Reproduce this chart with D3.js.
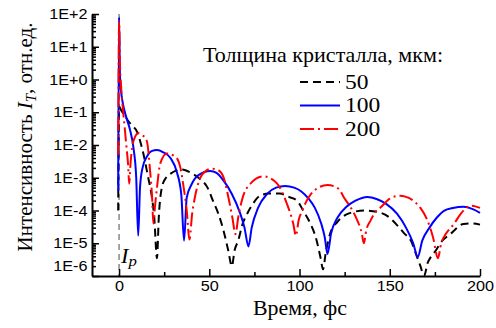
<!DOCTYPE html>
<html>
<head>
<meta charset="utf-8">
<script src="https://cdnjs.cloudflare.com/ajax/libs/d3/7.8.5/d3.min.js"></script>
<style>
body { margin: 0; background: #fff; }
</style>
</head>
<body>
<div id="gbody"></div>
<script>
var ancho = 496;
var alto = 328;
var fuenteSerif = "Liberation Serif";
var fuenteSans = "Liberation Sans";
var estirar = 1.12; // la figura original esta algo ensanchada

// datos: [tiempo fs, intensidad]
var curva50 = [[-0.5, 1e-4], [0, 0.15], [1, 0.12], [3, 0.08], [5, 0.055], [7, 0.04], [10, 0.025],
    [11.7, 0.013], [14, 4e-3], [16, 1.1e-3], [18, 3e-4], [19.5, 6e-5], [21, 3.5e-6], [22, 6e-5],
    [23.7, 5e-4], [26, 1e-3], [28.3, 1.3e-3], [31.5, 1.65e-3], [35, 1.8e-3], [40, 1.4e-3], [45, 9e-4],
    [49, 5e-4], [52, 2e-4], [55, 8e-5], [58, 2.3e-5], [60.5, 6e-6], [62.5, 2e-6], [64, 6e-6], [66, 1.2e-5],
    [68.5, 4e-5], [71, 8e-5], [74.5, 1.7e-4], [78, 2.8e-4], [83, 3.3e-4], [89, 3.3e-4], [94, 2.6e-4],
    [98.6, 2e-4], [102, 1e-4], [106, 4e-5], [109, 1.5e-5], [111.7, 3.5e-6], [113, 1.6e-6], [114.5, 5e-6],
    [117, 2e-5], [121, 4.5e-5], [127, 8e-5], [136, 1e-4], [145, 8.5e-5], [150, 6e-5], [154.4, 3.4e-5],
    [158, 2e-5], [161.7, 1.2e-5], [165, 4e-6], [167, 2e-6], [169, 1e-6], [171, 2.5e-6], [173, 4e-6],
    [175.5, 6e-6], [178, 1e-5], [184, 2e-5], [191, 3.9e-5], [196, 4e-5], [200, 3.7e-5]];

var curva100 = [[-0.5, 4e-4], [0, 80], [0.5, 1.2], [1, 0.5], [2, 0.2], [4, 0.07], [6, 0.03], [8, 0.008],
    [9.5, 0.001], [10.6, 1.7e-5], [11.6, 5e-4], [13, 2e-3], [15.5, 4.5e-3], [18, 6.5e-3], [21, 7e-3],
    [24.5, 6e-3], [28.5, 4e-3], [32, 1.5e-3], [34.5, 3e-4], [36, 1.2e-5], [37.5, 2.5e-4], [40, 6e-4],
    [44, 1.2e-3], [50.5, 1.6e-3], [54, 1.4e-3], [58, 8e-4], [62.5, 3.2e-4], [67, 8.5e-5], [69.5, 3e-5],
    [71.7, 8e-6], [73.5, 3e-5], [77, 1.2e-4], [82, 3.2e-4], [87, 5e-4], [92, 5.6e-4], [97, 5e-4],
    [101, 3.8e-4], [105, 2.3e-4], [108.5, 1.2e-4], [112, 4e-5], [114, 1.5e-5], [115.5, 4.7e-6],
    [117.5, 2e-5], [121, 6e-5], [126, 1.3e-4], [131, 2e-4], [137.6, 2.6e-4], [143, 2.2e-4], [148, 1.6e-4],
    [154, 8e-5], [159, 3e-5], [163, 1e-5], [165.5, 3.8e-6], [168, 1.2e-5], [172, 3e-5], [176, 6e-5],
    [180, 9.8e-5], [185, 1.2e-4], [191, 1.3e-4], [196, 1.1e-4], [200, 8.5e-5]];

var curva200 = [[-0.5, 5e-3], [0, 60], [0.5, 3], [1, 0.8], [2, 0.15], [3, 0.04], [4, 0.01], [5, 2.5e-3],
    [5.6, 6.6e-4], [6.3, 2.5e-3], [7.2, 8e-3], [8.5, 0.016], [10.6, 0.023], [13, 0.02], [15.4, 0.013],
    [17.2, 1.6e-3], [18.3, 2.5e-4], [19, 4e-5], [20, 1.5e-4], [21, 5e-4], [22.8, 2.7e-3], [26.5, 5.5e-3],
    [30, 4.8e-3], [32, 4e-3], [34, 2e-3], [35.8, 5e-4], [37.5, 1e-4], [39, 1.3e-5], [40.5, 8e-5],
    [42, 2.5e-4], [45, 1e-3], [48, 1.6e-3], [51.5, 1.9e-3], [55, 1.7e-3], [58, 1e-3], [60.6, 2.5e-4],
    [62.8, 6e-5], [64.5, 1.9e-5], [66, 6e-5], [68, 2e-4], [72.8, 6.6e-4], [80, 1.1e-3], [87.6, 6.6e-4],
    [93, 1.6e-4], [96.5, 4e-5], [98, 1.7e-5], [99.5, 5e-5], [101.5, 1e-4], [108, 4e-4], [115.5, 6e-4],
    [121.7, 4.6e-4], [124.6, 2.5e-4], [128.5, 1.2e-4], [132, 5e-5], [134.5, 2e-5], [135.6, 1e-5],
    [137, 2.5e-5], [139.4, 5e-5], [142, 9e-5], [145, 1.25e-4], [150, 2.3e-4], [155, 2.8e-4], [159, 2.6e-4],
    [163, 2e-4], [167, 1.2e-4], [171, 4.8e-5], [174, 1.5e-5], [176.7, 3.5e-6], [178.5, 1e-5], [181, 1.9e-5],
    [185.6, 3.9e-5], [189.4, 8e-5], [195, 1.4e-4], [200, 1.2e-4]];

var grosores = ["50", "100", "200"];
var ticksX = [0, 50, 100, 150, 200];
var ticksXmenor = [25, 75, 125, 175];
var exponentesY = [2, 1, 0, -1, -2, -3, -4, -5, -6];

var series = [
    {datos: curva50, color: "#000", dash: "8,5"},
    {datos: curva100, color: "#0000ff", dash: null},
    {datos: curva200, color: "#ff0000", dash: "14,4,2,4"}
];

var svg = d3.select("#gbody").append("svg")
    .attr("width", ancho)
    .attr("height", alto);

var x = d3.scaleLinear().domain([-15, 200]).range([92, 480]);
var y = d3.scaleLog().domain([1e-6, 1e2]).range([276, 14]);

// texto horizontal ensanchado como en la figura
function textoAncho(px, py, tam){
    return svg.append("g")
        .attr("transform", "translate(" + px + "," + py + ") scale(" + estirar + ",1)")
        .append("text")
        .style("font-family", fuenteSerif)
        .style("font-size", tam + "px");
}

// linea vertical del pulso
svg.append("line")
    .attr("x1", x(0)).attr("x2", x(0))
    .attr("y1", y(1e2)).attr("y2", y(1e-6))
    .attr("stroke", "#888")
    .attr("stroke-width", 1.5)
    .attr("stroke-dasharray", "6,4");

var linea = d3.line()
    .x(function(d){ return x(d[0]); })
    .y(function(d){ return y(d[1]); })
    .curve(d3.curveMonotoneX);

for(var i = 0; i < series.length; i++){
    svg.append("path")
        .attr("d", linea(series[i].datos))
        .attr("fill", "none")
        .attr("stroke", series[i].color)
        .attr("stroke-width", 2)
        .attr("stroke-dasharray", series[i].dash);
}

/*******************Ejes*************************/
var formatoY = function(d){
    var e = Math.round(Math.log10(d));
    return "1E" + (e >= 0 ? "+" : "-") + Math.abs(e);
};

var ejeY = svg.append("g")
    .attr("transform", "translate(" + x(-15) + ",0)")
    .call(d3.axisLeft(y)
        .tickValues(exponentesY.map(function(e){ return Math.pow(10, e); }))
        .tickSizeInner(-7).tickSizeOuter(0).tickPadding(4)
        .tickFormat(formatoY));

var menoresY = y.ticks().filter(function(d){
    var e = Math.log10(d);
    return Math.abs(e - Math.round(e)) > 1e-6;
});
svg.append("g")
    .attr("transform", "translate(" + x(-15) + ",0)")
    .call(d3.axisLeft(y).tickValues(menoresY).tickSizeInner(-4).tickSizeOuter(0).tickFormat(""))
    .select(".domain").remove();

ejeY.selectAll(".tick text")
    .filter(function(d){ return d == 1e-6; })
    .attr("dy", "-0.35em");

var ejeX = svg.append("g")
    .attr("transform", "translate(0," + y(1e-6) + ")")
    .call(d3.axisBottom(x).tickValues(ticksX).tickSizeInner(-7).tickSizeOuter(0).tickPadding(5));

svg.append("g")
    .attr("transform", "translate(0," + y(1e-6) + ")")
    .call(d3.axisBottom(x).tickValues(ticksXmenor).tickSizeInner(-4).tickSizeOuter(0).tickFormat(""))
    .select(".domain").remove();

svg.selectAll(".domain").attr("stroke-width", 2);
svg.selectAll(".tick line").attr("stroke-width", 1.5);
svg.selectAll(".tick text")
    .style("font-family", fuenteSans)
    .style("font-size", "14.5px")
    .attr("fill", "#000")
    .attr("transform", "scale(" + estirar + ",1)");

// titulos
svg.append("text")
    .attr("x", 300)
    .attr("y", 315)
    .attr("text-anchor", "middle")
    .attr("textLength", 94)
    .attr("lengthAdjust", "spacingAndGlyphs")
    .style("font-family", fuenteSerif)
    .style("font-size", "20px")
    .text("Время, фс");

var tituloY = svg.append("text")
    .attr("transform", "translate(32,137) rotate(-90)")
    .attr("text-anchor", "middle")
    .style("font-family", fuenteSerif)
    .style("font-size", "21px");
tituloY.append("tspan").text("Интенсивность ");
tituloY.append("tspan").style("font-style", "italic").text("I");
tituloY.append("tspan").style("font-style", "italic").style("font-size", "15px").attr("dy", 4).text("T");
tituloY.append("tspan").attr("dy", -4).text(", отн.ед.");

var etiquetaP = textoAncho(121, 263, 20)
    .style("font-style", "italic");
etiquetaP.append("tspan").text("I");
etiquetaP.append("tspan").style("font-size", "15px").attr("dy", 3).text("p");

/*******************Leyenda*************************/
svg.append("text")
    .attr("x", 203)
    .attr("y", 62)
    .attr("textLength", 240)
    .attr("lengthAdjust", "spacingAndGlyphs")
    .style("font-family", fuenteSerif)
    .style("font-size", "21px")
    .text("Толщина кристалла, мкм:");

for(var j = 0; j < grosores.length; j++){
    var yy = 82 + j * 23.5;
    svg.append("line")
        .attr("x1", 300).attr("x2", 340)
        .attr("y1", yy).attr("y2", yy)
        .attr("stroke", series[j].color)
        .attr("stroke-width", 2)
        .attr("stroke-dasharray", series[j].dash);
    textoAncho(345, yy, 21)
        .attr("dy", "0.33em")
        .text(grosores[j]);
}
</script>
</body>
</html>
